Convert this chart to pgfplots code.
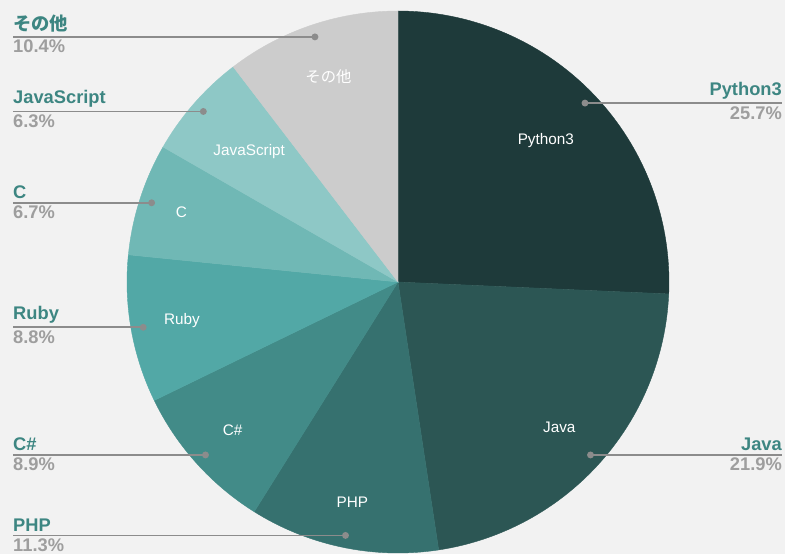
\documentclass[border=0pt]{standalone}
\usepackage{fontspec}
\setmainfont{Liberation Sans}
\newfontfamily\cjk{Noto Sans CJK JP}
\usepackage{pgfplots}
\pgfplotsset{compat=1.18}
\definecolor{bgc}{HTML}{F2F2F2}
\definecolor{cPy}{HTML}{1E3A3A}
\definecolor{cJava}{HTML}{2C5654}
\definecolor{cPHP}{HTML}{36716F}
\definecolor{cCs}{HTML}{428B88}
\definecolor{cRuby}{HTML}{52A8A6}
\definecolor{cC}{HTML}{70B8B5}
\definecolor{cJS}{HTML}{8EC8C6}
\definecolor{cOther}{HTML}{CCCCCC}
\definecolor{namec}{HTML}{3D8682}
\definecolor{pctc}{HTML}{9E9E9E}
\definecolor{linec}{HTML}{8C8C8C}
\tikzset{
  namelab/.style={inner sep=0pt,text=namec,font=\bfseries\fontsize{18.3}{20}\selectfont},
  pctlab/.style={inner sep=0pt,text=pctc,font=\bfseries\fontsize{18.3}{20}\selectfont},
  inlab/.style={inner sep=0pt,text=white,font=\fontsize{15.3}{17}\selectfont},
}
\def\cx{398}\def\cy{272}\def\R{271}
\def\cum{0}
\newif\ifslices
% #1 value, #2 colour, #3 name, #4 side (l/r), #5 radius fraction of the inner label
\newcommand\slice[5]{%
  \pgfmathsetmacro\aS{90-3.6*\cum}%
  \pgfmathsetmacro\aE{90-3.6*(\cum+#1)}%
  \pgfmathsetmacro\aM{(\aS+\aE)/2}%
  \pgfmathsetmacro\dX{\cx+0.955*\R*cos(\aM)}%
  \pgfmathsetmacro\dY{\cy+0.955*\R*sin(\aM)}%
  \pgfmathsetmacro\iX{\cx+#5*\R*cos(\aM)}%
  \pgfmathsetmacro\iY{\cy+#5*\R*sin(\aM)}%
  \pgfmathsetmacro\nc{\cum+#1}\xdef\cum{\nc}%
  \ifslices
    \edef\temp{\noexpand\addplot[fill=#2,draw=#2,line width=0.4pt,domain=\aE:\aS,samples=90]
      ({\cx+\R*cos(x)},{\cy+\R*sin(x)}) -- (\cx,\cy) -- cycle;
      \noexpand\node[inlab] at (\iX,\iY) {\unexpanded{#3}};}\temp
  \else
    \if#4l
      \edef\temp{\noexpand\addplot[linec,line width=1.6pt,mark=*,mark indices={1},mark size=2.6pt,mark options={fill=linec,draw=linec}]
        coordinates {(\dX,\dY) (13,\dY)};
        \noexpand\node[namelab,anchor=south west] at (13,\dY+4) {\unexpanded{#3}};
        \noexpand\node[pctlab,anchor=north west] at (13,\dY-3) {#1\noexpand\%};}\temp
    \else
      \edef\temp{\noexpand\addplot[linec,line width=1.6pt,mark=*,mark indices={1},mark size=2.6pt,mark options={fill=linec,draw=linec}]
        coordinates {(\dX,\dY) (782,\dY)};
        \noexpand\node[namelab,anchor=south east] at (782,\dY+4) {\unexpanded{#3}};
        \noexpand\node[pctlab,anchor=north east] at (782,\dY-3) {#1\noexpand\%};}\temp
    \fi
  \fi
}
\newcommand\alldata{%
  \def\cum{0}%
  \slice{25.7}{cPy}{Python3}{r}{0.755}%
  \slice{21.9}{cJava}{Java}{r}{0.80}%
  \slice{11.3}{cPHP}{PHP}{l}{0.83}%
  \slice{8.9}{cCs}{C\#}{l}{0.82}%
  \slice{8.8}{cRuby}{Ruby}{l}{0.81}%
  \slice{6.7}{cC}{C}{l}{0.84}%
  \slice{6.3}{cJS}{JavaScript}{l}{0.73}%
  \slice{10.4}{cOther}{{\cjk その他}}{l}{0.80}%
}
\begin{document}
\begin{tikzpicture}
\begin{axis}[
  scale only axis, width=785pt, height=554pt,
  xmin=0, xmax=785, ymin=0, ymax=554,
  axis line style={draw=none}, xtick=\empty, ytick=\empty,
  axis background/.style={fill=bgc},
  clip=false,
]
\slicestrue
\alldata
\slicesfalse
\alldata
\end{axis}
\end{tikzpicture}
\end{document}
